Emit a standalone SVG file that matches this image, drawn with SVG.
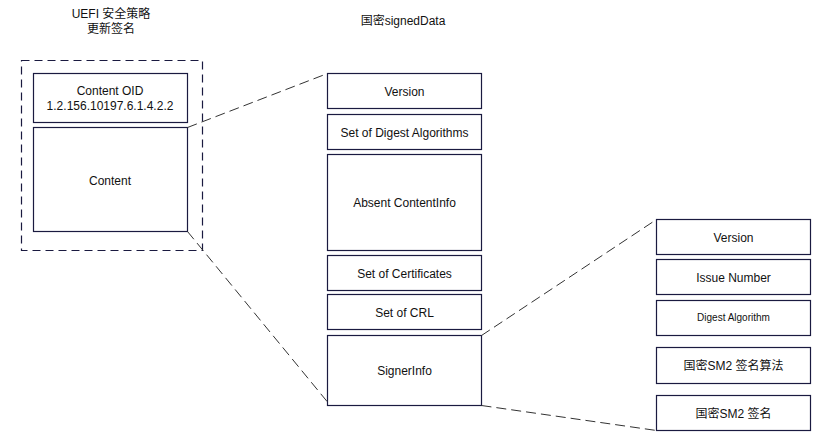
<svg xmlns="http://www.w3.org/2000/svg" width="820" height="435" viewBox="0 0 820 435">
<style>
.box{fill:#fff;stroke:#1a1a40;stroke-width:1.2}
.t{font-family:"Liberation Sans","Noto Sans CJK SC",sans-serif;font-size:12px;fill:#111;text-anchor:middle}
.s{font-size:10px}
.conn{stroke:#333;stroke-width:1;stroke-dasharray:10,5;fill:none}
.outer{fill:none;stroke:#1a1a40;stroke-width:1.2;stroke-dasharray:8,5}
</style>
<rect width="820" height="435" fill="#fff"/>
<text class="t" x="111" y="18">UEFI 安全策略</text>
<text class="t" x="111" y="33">更新签名</text>
<text class="t" x="403" y="25">国密signedData</text>
<g id="uefi-container">
<rect class="outer" x="21.5" y="60.5" width="181" height="190"/>
</g>
<g id="content-oid"><rect class="box" x="33.5" y="73.5" width="154" height="49"/><text class="t" x="110" y="95">Content OID</text><text class="t" x="110" y="110">1.2.156.10197.6.1.4.2.2</text></g>
<g id="content"><rect class="box" x="33.5" y="127.5" width="154" height="104"/><text class="t" x="110" y="185">Content</text></g>
<g id="sd-version"><rect class="box" x="327.5" y="73.5" width="154" height="35"/><text class="t" x="404.5" y="96">Version</text></g>
<g id="sd-digest"><rect class="box" x="327.5" y="114.5" width="154" height="35"/><text class="t" x="404.5" y="137">Set of Digest Algorithms</text></g>
<g id="sd-absent"><rect class="box" x="327.5" y="154.5" width="154" height="96"/><text class="t" x="404.5" y="207">Absent ContentInfo</text></g>
<g id="sd-certs"><rect class="box" x="327.5" y="255.5" width="154" height="35"/><text class="t" x="404.5" y="278">Set of Certificates</text></g>
<g id="sd-crl"><rect class="box" x="327.5" y="294.5" width="154" height="35"/><text class="t" x="404.5" y="317">Set of CRL</text></g>
<g id="sd-signerinfo"><rect class="box" x="327.5" y="335.5" width="154" height="70"/><text class="t" x="404.5" y="375">SignerInfo</text></g>
<g id="si-version"><rect class="box" x="656.5" y="219.5" width="154" height="35"/><text class="t" x="733.5" y="242">Version</text></g>
<g id="si-issue"><rect class="box" x="656.5" y="259.5" width="154" height="35"/><text class="t" x="733.5" y="282">Issue Number</text></g>
<g id="si-digest"><rect class="box" x="656.5" y="300.5" width="154" height="35"/><text class="t s" x="733.5" y="321">Digest Algorithm</text></g>
<g id="si-sigalg"><rect class="box" x="656.5" y="347.5" width="154" height="36"/><text class="t" x="733.5" y="370">国密SM2 签名算法</text></g>
<g id="si-sig"><rect class="box" x="656.5" y="395.5" width="154" height="35"/><text class="t" x="733.5" y="418">国密SM2 签名</text></g>
<g id="connectors">
<line class="conn" x1="187.5" y1="127.5" x2="327.5" y2="73.5"/>
<line class="conn" x1="187.5" y1="231.5" x2="327.5" y2="402"/>
<line class="conn" x1="481.5" y1="335.5" x2="656.5" y2="219.5"/>
<line class="conn" x1="481.5" y1="405.5" x2="656.5" y2="430.5"/>
</g>
</svg>
